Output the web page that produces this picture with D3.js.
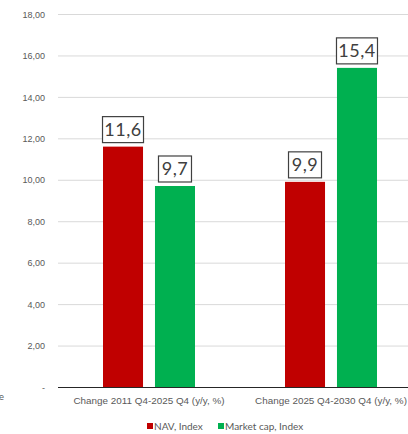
<!DOCTYPE html>
<html>
<head>
<meta charset="utf-8">
<script src="https://cdn.jsdelivr.net/npm/d3@7"></script>
<style>
  html, body { margin: 0; padding: 0; background: #fff; }
  svg { display: block; font-family: Lato, "Open Sans", sans-serif; }
</style>
</head>
<body>
<svg id="chart" width="408" height="434"></svg>
<script>
// Categories, series and values
const categories = ["Change 2011 Q4-2025 Q4 (y/y, %)", "Change 2025 Q4-2030 Q4 (y/y, %)"];
const seriesNames = ["NAV, Index", "Market cap, Index"];
const navValues = [11.6, 9.9];
const marketCapValues = [9.7, 15.4];
const seriesColors = ["#C00000", "#00B050"];
const yTicks = [0, 2, 4, 6, 8, 10, 12, 14, 16, 18];

const svg = d3.select("#chart");
const W = 408, H = 434;

const y = d3.scaleLinear().domain([0, 18]).range([387, 14]);
const x0 = d3.scaleBand().domain(categories).range([58, 422]);
const x1 = d3.scaleBand().domain(seriesNames).range([45, 137]).paddingInner(0.23);

const fmt = v => v === 0 ? "-" : d3.format(".2f")(v).replace(".", ",");
const fmt1 = v => d3.format(".1f")(v).replace(".", ",");

// Gridlines and y-axis labels
const yAxis = d3.axisLeft(y).tickValues(yTicks).tickSize(0).tickFormat(fmt);
const gy = svg.append("g").attr("transform", "translate(45,0)").call(yAxis);
gy.select(".domain").remove();
gy.selectAll("text").attr("x", 0).attr("fill", "#595959").attr("font-size", 9)
  .attr("dy", "0.35em");

svg.append("g").selectAll("line")
  .data(yTicks.filter(t => t > 0))
  .join("line")
  .attr("x1", 58).attr("x2", W)
  .attr("y1", d => y(d) + 0.5).attr("y2", d => y(d) + 0.5)
  .attr("stroke", "#D9D9D9").attr("stroke-width", 1);

// Bars
const rows = categories.map((c, i) => ({
  cat: c,
  vals: [
    { s: seriesNames[0], v: navValues[i], color: seriesColors[0] },
    { s: seriesNames[1], v: marketCapValues[i], color: seriesColors[1] }
  ]
}));

const groups = svg.append("g").selectAll("g")
  .data(rows).join("g")
  .attr("transform", d => `translate(${x0(d.cat)},0)`);

groups.selectAll("rect.bar")
  .data(d => d.vals).join("rect")
  .attr("class", "bar")
  .attr("x", d => x1(d.s))
  .attr("y", d => y(d.v))
  .attr("width", x1.bandwidth())
  .attr("height", d => y(0) - y(d.v))
  .attr("fill", d => d.color);

// Value labels in boxes
const lbl = groups.selectAll("g.lbl")
  .data(d => d.vals).join("g")
  .attr("class", "lbl")
  .attr("transform", d => `translate(${x1(d.s) + x1.bandwidth() / 2},${y(d.v) - 4})`);

lbl.append("rect")
  .attr("x", d => d.v >= 10 ? -20.5 : -16.5)
  .attr("y", -26)
  .attr("width", d => d.v >= 10 ? 41 : 33)
  .attr("height", 26)
  .attr("fill", "#fff")
  .attr("stroke", "#404040")
  .attr("stroke-width", 1.2);

lbl.append("text")
  .attr("text-anchor", "middle")
  .attr("y", -7)
  .attr("font-size", 18)
  .attr("fill", "#404040")
  .attr("letter-spacing", 0.5)
  .text(d => fmt1(d.v));

// X axis
const xAxis = d3.axisBottom(x0).tickSize(0).tickPadding(10);
const gx = svg.append("g").attr("transform", `translate(0,${y(0)})`).call(xAxis);
gx.select(".domain").remove();
gx.selectAll("text").attr("fill", "#595959").attr("font-size", 9.9);
svg.append("line")
  .attr("x1", 58).attr("x2", W)
  .attr("y1", y(0) + 0.5).attr("y2", y(0) + 0.5)
  .attr("stroke", "#262626").attr("stroke-width", 1);

// Partly visible axis title at the left edge
svg.append("text")
  .attr("x", 4).attr("y", 400)
  .attr("text-anchor", "end")
  .attr("font-size", 10)
  .attr("fill", "#595959")
  .text("e");

// Legend
const legend = svg.append("g").attr("transform", "translate(0,427)");
const legendX = [147, 218];
seriesNames.forEach((s, i) => {
  legend.append("rect")
    .attr("x", legendX[i]).attr("y", -4)
    .attr("width", 6).attr("height", 6)
    .attr("fill", seriesColors[i]);
  legend.append("text")
    .attr("x", legendX[i] + 7).attr("y", 0)
    .attr("dy", "0.32em")
    .attr("font-size", 10)
    .attr("fill", "#595959")
    .text(s);
});
</script>
</body>
</html>
